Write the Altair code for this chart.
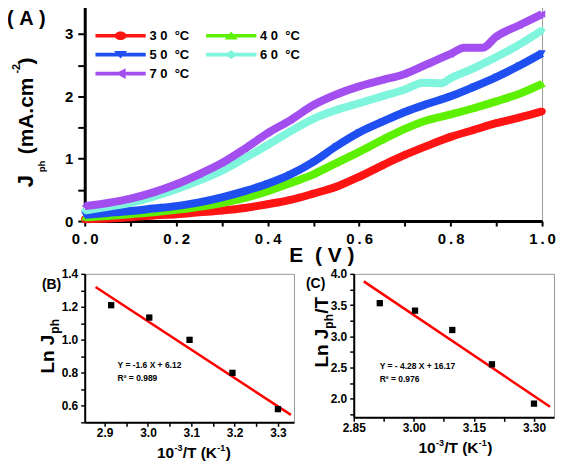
import altair as alt
import pandas as pd

FONT = "Liberation Sans"

# ---------------- Panel A : photocurrent vs potential ----------------
series = ["30 °C", "40 °C", "50 °C", "60 °C", "70 °C"]
legend_labels = ["3 0  °C", "4 0  °C", "5 0  °C", "6 0  °C", "7 0  °C"]
colors = ["#ff1414", "#5df000", "#1f4ff0", "#7ff5dd", "#a34ff0"]
shapes = ["circle", "triangle-up", "triangle-down", "diamond", "triangle-left"]

E_std = [0.0, 0.05, 0.1, 0.15, 0.2, 0.25, 0.3, 0.35, 0.4, 0.45, 0.5,
         0.55, 0.6, 0.65, 0.7, 0.75, 0.8, 0.85, 0.9, 0.95, 1.0]
E_60 = [0.0, 0.05, 0.1, 0.15, 0.2, 0.25, 0.3, 0.35, 0.4, 0.45, 0.5,
        0.55, 0.6, 0.65, 0.7, 0.74, 0.78, 0.8, 0.85, 0.9, 0.95, 1.0]
E_70 = [0.0, 0.05, 0.1, 0.15, 0.2, 0.25, 0.3, 0.35, 0.4, 0.45, 0.5,
        0.55, 0.6, 0.65, 0.7, 0.75, 0.8, 0.83, 0.87, 0.9, 0.95, 1.0]

J_30 = [0.03, 0.04, 0.06, 0.09, 0.11, 0.14, 0.17, 0.21, 0.27, 0.34, 0.44,
        0.55, 0.71, 0.89, 1.06, 1.21, 1.35, 1.46, 1.57, 1.66, 1.76]
J_40 = [0.06, 0.08, 0.11, 0.14, 0.18, 0.23, 0.29, 0.37, 0.48, 0.61, 0.75,
        0.93, 1.11, 1.30, 1.48, 1.62, 1.71, 1.81, 1.92, 2.04, 2.20]
J_50 = [0.10, 0.13, 0.16, 0.20, 0.24, 0.30, 0.38, 0.48, 0.60, 0.75, 0.95,
        1.20, 1.42, 1.59, 1.75, 1.88, 2.00, 2.15, 2.31, 2.49, 2.69]
J_60 = [0.17, 0.23, 0.29, 0.39, 0.51, 0.65, 0.81, 1.01, 1.22, 1.44, 1.64,
        1.78, 1.89, 2.00, 2.11, 2.22, 2.21, 2.29, 2.45, 2.63, 2.83, 3.06]
J_70 = [0.24, 0.29, 0.36, 0.46, 0.59, 0.75, 0.93, 1.16, 1.41, 1.62, 1.86,
        2.03, 2.16, 2.26, 2.36, 2.52, 2.68, 2.78, 2.78, 2.96, 3.14, 3.32]

E_ticks = [0.0, 0.1, 0.2, 0.3, 0.4, 0.5, 0.6, 0.7, 0.8, 0.9, 1.0]
J_ticks = [0.0, 0.5, 1.0, 1.5, 2.0, 2.5, 3.0]

# ---------------- Panel B / C : Arrhenius plots ----------------
invT = [2.915, 3.003, 3.096, 3.195, 3.300]
lnJ = [1.21, 1.135, 1.00, 0.80, 0.58]
lnJT = [3.53, 3.41, 3.10, 2.55, 1.92]
fitB_x = [2.879, 3.33]
fitB_y = [1.32, 0.545]
fitC_x = [2.875, 3.34]
fitC_y = [3.88, 1.87]

B_xticks = [2.9, 2.95, 3.0, 3.05, 3.1, 3.15, 3.2, 3.25, 3.3]
B_yticks = [0.5, 0.6, 0.7, 0.8, 0.9, 1.0, 1.1, 1.2, 1.3, 1.4]
C_xticks = [2.85, 2.925, 3.0, 3.075, 3.15, 3.225, 3.3]
C_yticks = [1.75, 2.0, 2.25, 2.5, 2.75, 3.0, 3.25, 3.5, 3.75, 4.0]

# ---------------- helpers ----------------
def txt(s, x, y, size, angle=0, align="left", baseline="alphabetic"):
    return alt.Chart(pd.DataFrame({"t": [s]})).mark_text(
        font=FONT, fontWeight="bold", fontSize=size, angle=angle,
        align=align, baseline=baseline, color="black"
    ).encode(x=alt.value(x), y=alt.value(y), text="t:N")


def inv_temp_title(x0, y0):
    # "10^-3/T (K^-1)" built from pieces (superscripts raised)
    return [
        txt("10", x0, y0, 15.5),
        txt("-3", x0 + 17.5, y0 - 7, 9),
        txt("/T (K", x0 + 25.8, y0, 15.5),
        txt("-1", x0 + 60.5, y0 - 7, 9),
        txt(")", x0 + 69, y0, 15.5),
    ]

# ---------------- Panel A chart ----------------
E_lists = [E_std, E_std, E_std, E_60, E_70]
J_lists = [J_30, J_40, J_50, J_60, J_70]
rows = []
for s, es, js in zip(series, E_lists, J_lists):
    for e, j in zip(es, js):
        rows.append({"series": s, "E": e, "J": j})
dfA = pd.DataFrame(rows)

cscale = alt.Scale(domain=series, range=colors)
xA = alt.X("E:Q", scale=alt.Scale(domain=[0, 1], nice=False),
           axis=alt.Axis(values=E_ticks, title=None, tickSize=5, tickWidth=2,
                         domainWidth=3, labelFontSize=15, labelPadding=6,
                         labelFlush=False, labelOverlap=False,
                         labelExpr="round(datum.value*10) % 2 == 0 ? replace(format(datum.value, '.1f'), '.', '\u2009.\u2009') : ''"))
yA = alt.Y("J:Q", scale=alt.Scale(domain=[0, 3.5], nice=False),
           axis=alt.Axis(values=J_ticks, title=None, tickSize=7, tickWidth=2,
                         domainWidth=3, labelFontSize=15, labelPadding=5,
                         labelOverlap=False,
                         labelExpr="datum.value % 1 == 0 ? format(datum.value, 'd') : ''"))

layersA = []
for s, sh in zip(series, shapes):
    sub = alt.Chart(dfA).transform_filter(alt.datum.series == s)
    layersA.append(sub.mark_line(strokeWidth=8, interpolate="monotone").encode(
        x=xA, y=yA, color=alt.Color("series:N", scale=cscale, legend=None)))
    layersA.append(sub.mark_point(shape=sh, filled=True, size=55, opacity=1).encode(
        x=xA, y=yA, color=alt.Color("series:N", scale=cscale, legend=None)))

# legend (line + marker symbols), drawn inside the plot area
line_path = "M-4.2,-0.3H4.2V0.3H-4.2Z "
legend_paths = [
    line_path + "M-1,0A1,0.72 0 1,1 1,0A1,0.72 0 1,1 -1,0Z",
    line_path + "M0,-0.7L1.1,0.65L-1.1,0.65Z",
    line_path + "M-1.1,-0.6L1.1,-0.6L0,0.65Z",
    line_path + "M-1.1,0L0,-0.72L1.1,0L0,0.72Z",
    line_path + "M-0.85,0L0.85,-0.9L0.85,0.9Z",
]
leg_sym_x = [36, 147, 36, 147, 36]
leg_y = [33, 33, 52, 52, 71]
leg_lab_x = [65, 176, 65, 176, 65]
legend_layers = []
for i in range(5):
    legend_layers.append(
        alt.Chart(pd.DataFrame({"s": [series[i]]})).mark_point(
            shape=legend_paths[i], filled=True, size=144, opacity=1,
            color=colors[i], strokeWidth=0
        ).encode(x=alt.value(leg_sym_x[i]), y=alt.value(leg_y[i])))
    legend_layers.append(txt(legend_labels[i].replace(" ", "\u00a0"),
                             leg_lab_x[i], leg_y[i], 13, baseline="middle"))

textA = [
    txt("(\u00a0A\u00a0)", -78, 16, 20, baseline="middle"),
    txt("J", -52, 185, 22, angle=270),
    txt("ph", -40, 170, 9.5, angle=270),
    txt("(mA.cm", -52, 152, 21, angle=270),
    txt("-2", -65, 71, 11, angle=270),
    txt(")", -52, 62, 21, angle=270),
    txt("E\u00a0\u00a0(\u00a0V\u00a0)", 238, 260, 21, align="center"),
]
chartA = alt.layer(*layersA, *legend_layers, *textA).properties(width=459, height=219)

# ---------------- Panel B chart ----------------
dfB = pd.DataFrame({"x": invT, "y": lnJ})
dfBf = pd.DataFrame({"x": fitB_x, "y": fitB_y})
xB = alt.X("x:Q", scale=alt.Scale(domain=[2.854, 3.337], nice=False),
           axis=alt.Axis(values=B_xticks, title=None, tickSize=4, tickWidth=1.5,
                         domainWidth=2, labelFontSize=12, labelPadding=1.5,
                         labelFlush=False, labelOverlap=False,
                         labelExpr="round(datum.value*20) % 2 == 0 ? format(datum.value, '.1f') : ''"))
yB = alt.Y("y:Q", scale=alt.Scale(domain=[0.5, 1.4], nice=False),
           axis=alt.Axis(values=B_yticks, title=None, tickSize=4, tickWidth=1.5,
                         domainWidth=2, labelFontSize=12, labelPadding=3,
                         labelOverlap=False,
                         labelExpr="round(datum.value*10) % 2 == 0 ? format(datum.value, '.1f') : ''"))
fitBl = alt.Chart(dfBf).mark_line(color="#ff0000", strokeWidth=2.5).encode(x=xB, y=yB)
ptsB = alt.Chart(dfB).mark_square(color="black", size=40, opacity=1).encode(x=xB, y=yB)
textB = [
    txt("(B)", -43, 11, 14, baseline="middle"),
    txt("Ln J", -31, 100, 19, angle=270),
    txt("ph", -26, 60, 12, angle=270),
    *inv_temp_title(72.5, 184.5),
    txt("Y = -1.6 X + 6.12", 33, 94, 8.5),
    txt("R\u00b2 = 0.989", 33, 108, 8.5),
]
chartB = alt.layer(fitBl, ptsB, *textB).properties(width=210, height=149)

# ---------------- Panel C chart ----------------
dfC = pd.DataFrame({"x": invT, "y": lnJT})
dfCf = pd.DataFrame({"x": fitC_x, "y": fitC_y})
xC = alt.X("x:Q", scale=alt.Scale(domain=[2.85, 3.35], nice=False),
           axis=alt.Axis(values=C_xticks, title=None, tickSize=4, tickWidth=1.5,
                         domainWidth=2, labelFontSize=12, labelPadding=1.5,
                         labelFlush=False, labelOverlap=False,
                         labelExpr="round((datum.value-2.85)/0.075) % 2 == 0 ? format(datum.value, '.2f') : ''"))
yC = alt.Y("y:Q", scale=alt.Scale(domain=[1.7, 4.0], nice=False),
           axis=alt.Axis(values=C_yticks, title=None, tickSize=4, tickWidth=1.5,
                         domainWidth=2, labelFontSize=12, labelPadding=3,
                         labelOverlap=False,
                         labelExpr="round(datum.value*4) % 2 == 0 ? format(datum.value, '.1f') : ''"))
fitCl = alt.Chart(dfCf).mark_line(color="#ff0000", strokeWidth=2.5).encode(x=xC, y=yC)
ptsC = alt.Chart(dfC).mark_square(color="black", size=40, opacity=1).encode(x=xC, y=yC)
textC = [
    txt("(C)", -48, 10, 14, baseline="middle"),
    txt("Ln J", -26, 94, 19, angle=270),
    txt("ph", -21, 55, 12, angle=270),
    txt("/T", -26, 40, 19, angle=270),
    *inv_temp_title(65, 179.5),
    txt("Y = - 4.28 X + 16.17", 26, 95.5, 8.5),
    txt("R\u00b2 = 0.976", 26, 109, 8.5),
]
chartC = alt.layer(fitCl, ptsC, *textC).properties(width=201, height=144)

bottom = alt.hconcat(chartB, chartC, spacing=60, bounds="flush")
chart = alt.vconcat(chartA, bottom, spacing=53, bounds="flush").properties(
    padding={"left": -2, "top": -12, "right": 0, "bottom": 0}
).configure_view(stroke="#9a9a9a", strokeWidth=1).configure_axis(
    grid=False, domainColor="black", tickColor="black", labelColor="black",
    labelFont=FONT, labelFontWeight="bold"
)

chart.save("out.html", embed_options={"renderer": "svg", "actions": False})
